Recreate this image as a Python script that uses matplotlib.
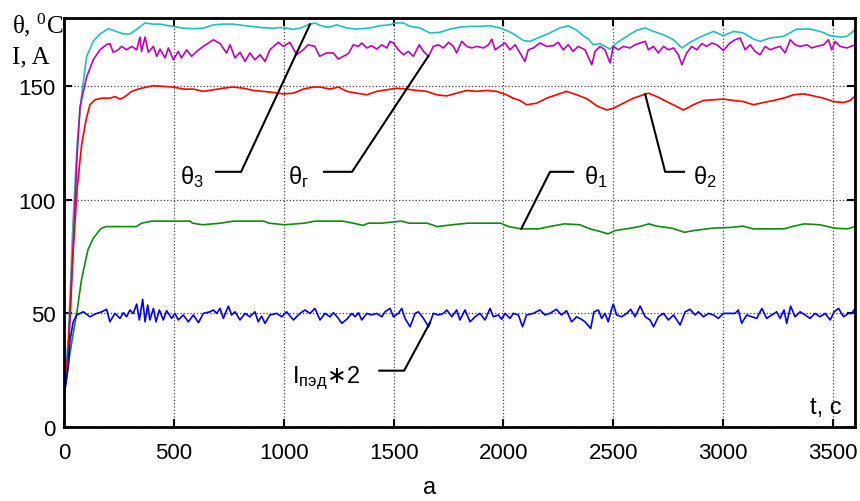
import matplotlib
matplotlib.use("Agg")
import matplotlib.pyplot as plt
import numpy as np

# theta_3 (cyan)
t_theta3 = [0, 20, 40, 60, 80, 103, 133, 164, 202, 225, 270, 300, 331, 369, 407, 437,
            482, 543, 589, 634, 680, 725, 771, 816, 862, 907, 953, 983, 1013, 1044, 1074,
            1111, 1141, 1164, 1194, 1211, 1241, 1287, 1332, 1393, 1438, 1484, 1507, 1545,
            1575, 1620, 1665, 1711, 1757, 1802, 1848, 1893, 1939, 1984, 2014, 2044, 2090,
            2120, 2166, 2211, 2257, 2295, 2333, 2363, 2386, 2409, 2440, 2485, 2515, 2561,
            2607, 2645, 2683, 2728, 2774, 2812, 2850, 2895, 2956, 3001, 3047, 3092, 3138,
            3168, 3214, 3274, 3335, 3396, 3441, 3487, 3532, 3563, 3600]
theta3 = [15, 40, 88, 125, 146, 163, 169.7, 173, 175.3, 174.5, 173, 173, 175, 177.8, 177.3,
          177.3, 176.5, 175.5, 175.3, 175.5, 177, 177.3, 177.3, 176.7, 176.2, 175.7, 175.5,
          175.8, 175.5, 175, 175.5, 177, 177.8, 176.8, 176, 176, 177, 175.6, 175.1, 175.6,
          176.6, 177, 177.8, 177.8, 176.3, 175.6, 173.4, 173.7, 175.1, 176, 176.3, 176.3,
          176.6, 175.6, 174.5, 173.1, 170.1, 169.7, 171.6, 173.4, 175.6, 176.6, 174.6, 172.2,
          170.8, 168.2, 168.7, 166.3, 169, 171.9, 174.6, 175.6, 174.1, 172.6, 170.4, 166.8,
          169.3, 171.6, 174.1, 172.2, 174.1, 173.4, 170.7, 169.7, 171.2, 171.9, 175.1, 175.1,
          174.1, 172.2, 171.6, 171.9, 174.8]

# theta_g (magenta)
t_thetag = [0, 20, 40, 60, 73, 103, 133, 164, 194, 209, 224, 247, 262, 285, 308, 331, 346,
            353, 369, 384, 407, 422, 437, 460, 475, 498, 520, 535, 558, 581, 604, 634, 680,
            710, 740, 756, 778, 801, 824, 846, 869, 892, 915, 937, 975, 998, 1028, 1059,
            1089, 1111, 1141, 1164, 1194, 1226, 1248, 1271, 1294, 1317, 1340, 1355, 1378,
            1400, 1423, 1446, 1469, 1484, 1499, 1522, 1545, 1567, 1590, 1617, 1636, 1659,
            1681, 1704, 1727, 1750, 1772, 1787, 1810, 1833, 1856, 1878, 1909, 1932, 1947,
            1962, 1984, 2007, 2030, 2053, 2075, 2098, 2113, 2136, 2166, 2196, 2227, 2249,
            2272, 2295, 2317, 2340, 2371, 2402, 2417, 2440, 2462, 2485, 2500, 2523, 2546,
            2576, 2599, 2622, 2645, 2660, 2683, 2705, 2728, 2751, 2774, 2796, 2812, 2834,
            2857, 2880, 2903, 2925, 2948, 2971, 3001, 3031, 3054, 3077, 3100, 3123, 3145,
            3168, 3191, 3214, 3236, 3259, 3282, 3305, 3328, 3350, 3381, 3403, 3426, 3457,
            3479, 3494, 3510, 3532, 3563, 3600]
thetag = [12, 32, 75, 120, 141, 154, 161.6, 166, 168.3, 168.7, 164.9, 166, 167.5, 166,
          167.5, 166, 171.6, 165.3, 171.6, 164.9, 167.5, 163.1, 166.3, 162.4, 166.8, 161.6,
          165.3, 162.4, 166, 163.1, 165.3, 167.5, 170.4, 168.7, 164.6, 168.2, 162.4, 164.9,
          160.9, 164.6, 161.6, 163.8, 160.9, 166, 169.3, 167.5, 169.3, 163.8, 166, 168.2,
          167.5, 163.1, 164.6, 164.6, 161.9, 163.1, 164.3, 168.2, 167.5, 169, 166.8, 167.8,
          166.3, 168.2, 166.8, 169.7, 169, 166, 163.8, 165.3, 163.1, 168.2, 165.3, 163.1,
          167.5, 168.2, 166.8, 169.3, 167.5, 164.6, 169.7, 167.5, 166.8, 167.5, 166.8, 168.2,
          170.7, 166, 167.5, 169, 166, 168.2, 164.6, 160.9, 166, 166.8, 169, 167.5, 167.8,
          169.3, 166, 168.2, 165.3, 167.5, 166, 159.4, 165.3, 167.5, 166, 160.2, 167.5, 166,
          167.5, 166.8, 168.2, 169, 169.7, 166, 167.5, 164.6, 167.5, 166, 166.8, 163.8, 159.4,
          164.6, 167.5, 166, 168.7, 167.5, 169, 168.2, 165.7, 169, 170.4, 171.2, 166, 168.2,
          165.3, 163.8, 167.5, 166, 166.8, 167.5, 164.6, 170.4, 168.2, 167.5, 168.2, 166.8,
          167.5, 168.2, 170.4, 166, 169.7, 167.5, 166.8, 168.2]

# theta_2 (red)
t_theta2 = [0, 20, 40, 60, 80, 100, 118, 141, 171, 209, 232, 255, 278, 308, 338, 376, 407,
            452, 498, 543, 589, 634, 680, 725, 771, 816, 862, 907, 953, 998, 1044, 1089,
            1134, 1165, 1211, 1249, 1287, 1332, 1378, 1423, 1469, 1514, 1560, 1605, 1651,
            1696, 1742, 1787, 1833, 1878, 1924, 1969, 2014, 2044, 2075, 2105, 2151, 2196,
            2241, 2287, 2333, 2378, 2394, 2425, 2470, 2500, 2546, 2591, 2637, 2660, 2698,
            2743, 2789, 2819, 2864, 2910, 2956, 3001, 3047, 3092, 3138, 3183, 3229, 3274,
            3320, 3366, 3411, 3457, 3502, 3548, 3578, 3600]
theta2 = [14, 35, 75, 105, 124, 135, 141.8, 144, 144.7, 144.7, 145.4, 144.3, 145.4, 147.7,
          148.7, 149.6, 150.2, 149.9, 149.6, 148.7, 148.7, 147.7, 148.4, 149.1, 149.6, 149.1,
          148.1, 147.7, 147.2, 146.6, 146.9, 148.7, 149.6, 149.6, 148.7, 149.6, 147.7, 146.9,
          146.2, 147.7, 148.4, 149.1, 148.7, 148.1, 147.7, 146.2, 145.7, 146.9, 148.1, 147.7,
          148.1, 147.7, 146.2, 144.7, 143.7, 141.8, 142.5, 144.7, 146.2, 147.7, 146.2, 144.5,
          143.5, 141.3, 139.5, 140.3, 142.5, 144.7, 146.2, 146.9, 145.4, 143.2, 141, 139.5,
          141.8, 143.7, 144, 144.3, 143.7, 143.2, 141.8, 142.8, 143.7, 144.7, 146.2, 146.6,
          145.7, 144.7, 143.2, 142.8, 143.7, 145.7]

# theta_1 (green)
t_theta1 = [0, 20, 40, 58, 80, 109, 133, 167, 190, 330, 353, 399, 573, 585, 631, 713, 771,
            910, 933, 1003, 1095, 1142, 1269, 1316, 1362, 1385, 1443, 1536, 1571, 1652,
            1699, 1768, 1838, 1988, 2023, 2081, 2162, 2209, 2278, 2348, 2394, 2441, 2476,
            2510, 2580, 2627, 2662, 2697, 2766, 2824, 2870, 2951, 3044, 3090, 3137, 3276,
            3322, 3369, 3439, 3508, 3566, 3600]
theta1 = [13, 28, 40, 50, 65, 78, 83, 87.2, 88.2, 88.2, 89.7, 90.6, 90.6, 89.7, 89, 89.7,
          90.6, 90.6, 89.7, 89, 89.7, 90.6, 90.6, 89.7, 88.7, 89.7, 89.7, 90.6, 89.7, 89.7,
          88.2, 89, 89.7, 89.7, 88.2, 87.2, 87.2, 88.2, 89.4, 89, 87.2, 86, 85, 86.5, 87.5,
          88.4, 89.4, 88.4, 87.5, 85.7, 86.5, 87.5, 87.9, 88.4, 87.2, 87.2, 88.4, 89.4, 89,
          87.5, 87.2, 88.2]

# I_ped * 2 (blue)
t_cur = [0, 10, 20, 27, 42, 58, 88, 118, 149, 172, 194, 209, 232, 255, 270, 285, 300, 315,
         331, 343, 358, 369, 381, 391, 407, 419, 434, 452, 467, 490, 505, 520, 543, 566, 589,
         612, 634, 665, 680, 695, 710, 725, 748, 763, 778, 801, 824, 846, 869, 884, 899, 915,
         937, 968, 991, 1013, 1044, 1074, 1097, 1120, 1142, 1165, 1188, 1211, 1226, 1249,
         1264, 1287, 1310, 1325, 1340, 1355, 1378, 1400, 1423, 1446, 1461, 1484, 1499, 1522,
         1537, 1552, 1575, 1598, 1613, 1636, 1659, 1681, 1704, 1727, 1742, 1765, 1787, 1802,
         1825, 1848, 1871, 1893, 1916, 1939, 1954, 1977, 1992, 2007, 2030, 2045, 2068, 2087,
         2105, 2136, 2166, 2189, 2211, 2241, 2264, 2287, 2310, 2333, 2355, 2371, 2397, 2412,
         2432, 2447, 2462, 2477, 2493, 2500, 2515, 2538, 2561, 2579, 2599, 2622, 2645, 2667,
         2683, 2705, 2728, 2751, 2774, 2804, 2827, 2849, 2872, 2887, 2910, 2933, 2956, 2978,
         3001, 3031, 3054, 3069, 3084, 3107, 3130, 3153, 3176, 3198, 3221, 3244, 3259, 3277,
         3289, 3307, 3327, 3350, 3373, 3395, 3418, 3441, 3464, 3487, 3505, 3525, 3548, 3570,
         3585, 3600]
cur = [14, 20, 27, 38, 46.3, 49.3, 50.7, 48.5, 50, 50.7, 51.8, 46.3, 50, 47.8, 50.3, 48.5,
       51.5, 50, 54.1, 47.1, 56.2, 46.3, 53.7, 47.1, 52.2, 46.3, 51.5, 47.1, 51.2, 47.8, 50,
       47.1, 49.3, 46.3, 49.3, 45.9, 50, 50.7, 51.5, 50, 52.2, 47.8, 53.2, 49.3, 50.7, 47.1,
       50, 48.5, 50.7, 46.3, 48.8, 45.6, 49.3, 50, 48.5, 50.7, 47.1, 50, 51.5, 50, 52.2, 47.1,
       50, 48.5, 50.3, 47.8, 45.6, 47.4, 50, 48.5, 50.3, 47.1, 50, 49.3, 50, 48.5, 50.7, 52.2,
       48.5, 50, 52.2, 47.8, 44.1, 50, 50.7, 47.8, 44.1, 50, 49.3, 50, 51.5, 48.5, 51.5, 47.1,
       51.5, 46.3, 48.5, 50, 47.1, 52.2, 48.5, 49.3, 47.4, 50, 47.8, 50, 49.3, 44.1, 49.3, 50,
       51.5, 49.3, 50, 51.8, 49.3, 51.2, 46.3, 48.5, 47.4, 46.3, 43.4, 50.7, 51.5, 47.8, 50,
       46.3, 52.2, 54.1, 49.3, 48.5, 50, 51.8, 48.5, 53.2, 48.5, 47.1, 44.1, 48.5, 50, 47.1,
       49.3, 44.9, 50.7, 51.8, 49.3, 50.7, 48.5, 50, 49.3, 47.8, 50, 50, 50, 51.5, 45.6, 49.3,
       48.5, 47.8, 52.2, 47.8, 49.3, 50.7, 47.8, 51.5, 45.6, 53.2, 48.5, 50.7, 49.3, 47.8, 50,
       48.5, 50, 47.1, 50.7, 52.2, 48.5, 50, 50, 52.2]

x_ticks = [0, 500, 1000, 1500, 2000, 2500, 3000, 3500]
y_ticks = [0, 50, 100, 150]

plt.rcParams['font.family'] = ['Liberation Sans', 'DejaVu Sans']
fs = 16

fig = plt.figure(figsize=(8.6, 5.02), dpi=100)
ax = fig.add_axes([0.0744, 0.1474, 0.9198, 0.8148])

ax.plot(t_theta3, theta3, color='#20c0c0', lw=1.2)
ax.plot(t_thetag, thetag, color='#c000c0', lw=1.2)
ax.plot(t_theta2, theta2, color='#ff0000', lw=1.2)
ax.plot(t_theta1, theta1, color='#108a10', lw=1.2)
ax.plot(t_cur, cur, color='#0000ff', lw=1.2)

ax.set_xlim(0, 3600)
ax.set_ylim(0, 180)
ax.set_xticks(x_ticks)
ax.set_yticks(y_ticks)
ax.grid(True, linestyle=':', color='0.25', lw=0.9)
ax.tick_params(direction='in', length=6, width=1.5, top=True, right=True,
               labelsize=fs, pad=6)
ax.tick_params(axis='x', pad=11)
for s in ax.spines.values():
    s.set_linewidth(2)


def leader(label, x_text, ha, x_h0, x_h1, x_end, t, v, y_h=112.3, y_text=107.5):
    # horizontal stub, then a slanted line down/up to the curve
    y_end = np.interp(x_end, t, v)
    ax.plot([x_h1, x_h0, x_end], [y_h, y_h, y_end], color='k', lw=1.5)
    ax.text(x_text, y_text, label, ha=ha, va='baseline', fontsize=17)


leader(r'$\mathregular{θ_3}$', 637, 'right', 806, 692, 1120, t_theta3, theta3)
leader(r'$\mathregular{θ_г}$', 1115, 'right', 1311, 1183, 1658, t_thetag, thetag)
leader(r'$\mathregular{θ_1}$', 2367, 'left', 2212, 2317, 2081, t_theta1, theta1)
leader(r'$\mathregular{θ_2}$', 2863, 'left', 2736, 2822, 2645, t_theta2, theta2)
leader(r'$\mathregular{I_{пэд}}{\ast}\mathregular{2}$', 1347, 'right', 1548, 1435, 1666,
       t_cur, cur, y_h=24.8, y_text=19.7)

ax.text(3541, 6, 't, c', ha='right', va='baseline', fontsize=17)

fig.text(12 / 860, 1 - 25 / 502, r'θ, $\mathregular{^0}$C', family='Liberation Serif',
         fontsize=18, va='center', ha='left')
fig.text(12 / 860, 1 - 57 / 502, 'I, A', family='Liberation Serif',
         fontsize=18, va='center', ha='left')
fig.text(0.5, 1 - 488 / 502, 'а', ha='center', va='center', fontsize=17)

fig.savefig('out.png', dpi=100)
